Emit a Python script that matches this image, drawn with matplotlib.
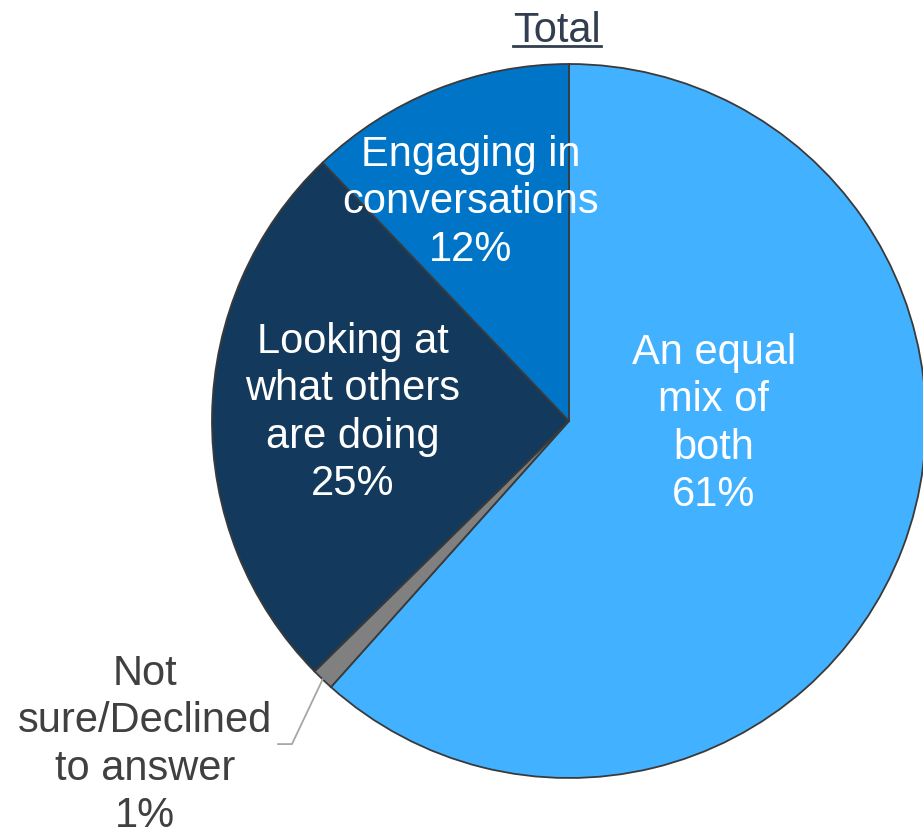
import matplotlib
matplotlib.use("Agg")
import matplotlib.pyplot as plt
from matplotlib.lines import Line2D
import numpy as np

plt.rcParams['font.family'] = ['Liberation Sans', 'DejaVu Sans']

categories = ["An equal\nmix of\nboth", "Not\nsure/Declined\nto answer",
              "Looking at\nwhat others\nare doing", "Engaging in\nconversations"]
values = [61, 1, 25, 12]
colors = ["#42B1FF", "#808080", "#133A5C", "#0074C7"]
title = "Total"

W, H = 923, 837
fig = plt.figure(figsize=(W / 100, H / 100), dpi=100)
cx, cy, r = 569, 422, 357
ax = fig.add_axes([(cx - r) / W, (H - cy - r) / H, 2 * r / W, 2 * r / H])

wedges, _ = ax.pie(values, colors=colors, startangle=90, counterclock=False,
                   wedgeprops=dict(edgecolor="#3A3A3A", linewidth=1.3))
ax.set_xlim(-1, 1)
ax.set_ylim(-1, 1)
ax.set_aspect('equal', adjustable='box')
ax.axis('off')
for w in wedges:
    w.set_clip_on(False)

fs = 30
ls = 1.24
# inner labels
inner_pos = {0: (0.406, -0.006), 2: (-0.605, 0.025), 3: (-0.275, 0.616)}
for i, (x, y) in inner_pos.items():
    ax.text(x, y, f"{categories[i]}\n{values[i]}%", ha='center', va='center',
            color='white', fontsize=fs, linespacing=ls)

# outside label for the small slice, with a leader line
w = wedges[1]
mid = np.deg2rad((w.theta1 + w.theta2) / 2)
sx, sy = np.cos(mid), np.sin(mid)
ax.add_line(Line2D([sx, -0.776, -0.815], [sy, -0.905, -0.905],
                   color="#A6A6A6", linewidth=1.3, clip_on=False))
ax.text(-1.188, -0.905, f"{categories[1]}\n{values[1]}%", ha='center', va='center',
        color='#404040', fontsize=fs, linespacing=ls, clip_on=False)

# underlined title
t = fig.text(557 / W, 1 - 31 / H, title, ha='center', va='center',
             fontsize=fs, color='#323E4F')
fig.canvas.draw()
bb = t.get_window_extent()
uy = (H - 47) / H
fig.add_artist(Line2D([bb.x0 / W, bb.x1 / W], [uy, uy], color='#323E4F',
                      linewidth=2, transform=fig.transFigure))

fig.savefig("out.png", dpi=100)
